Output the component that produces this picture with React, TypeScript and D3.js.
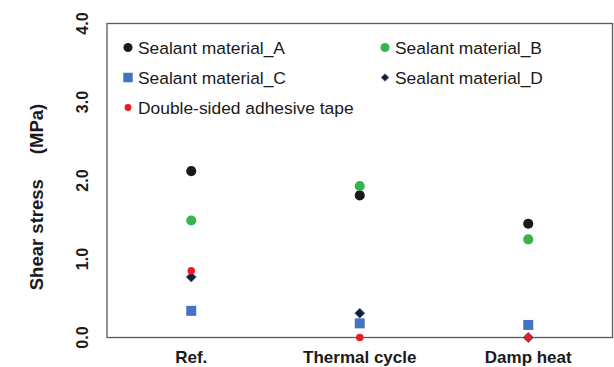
import React from "react";
import * as d3 from "d3";

const categories = ["Ref.", "Thermal cycle", "Damp heat"];
const materialA = [2.12, 1.81, 1.45];
const materialB = [1.49, 1.93, 1.25];
const materialC = [0.34, 0.18, 0.16];
const materialD = [0.77, 0.31, 0.0];
const adhesiveTape = [0.85, 0.0, 0.0];
const yTicks = [0, 1, 2, 3, 4];

const series = [
  { name: "Sealant material_A", values: materialA, shape: "circle", color: "#1a1a1a" },
  { name: "Sealant material_B", values: materialB, shape: "circle", color: "#35b44f" },
  { name: "Sealant material_C", values: materialC, shape: "square", color: "#4472c4" },
  { name: "Sealant material_D", values: materialD, shape: "diamond", color: "#1c1c30" },
  { name: "Double-sided adhesive tape", values: adhesiveTape, shape: "small", color: "#ed1c24" },
];

const symbolPath = (shape: string, legend: boolean) => {
  if (shape === "square") return d3.symbol(d3.symbolSquare, legend ? 90 : 100)();
  if (shape === "diamond") return d3.symbol(d3.symbolSquare, legend ? 30 : 50)();
  if (shape === "small") return d3.symbol(d3.symbolCircle, legend ? 36 : 44)();
  return d3.symbol(d3.symbolCircle, legend ? 64 : 80)();
};

const App = () => {
  const ref = React.useRef<SVGSVGElement>(null);

  React.useEffect(() => {
    const svg = d3.select(ref.current);
    svg.selectAll("*").remove();

    const margin = { top: 23.5, right: 1.5, bottom: 29.5, left: 107 };
    const width = 614, height = 367;

    const x = d3.scalePoint()
      .domain(categories)
      .range([margin.left, width - margin.right])
      .padding(0.5);

    const y = d3.scaleLinear()
      .domain([0, 4])
      .range([height - margin.bottom, margin.top]);

    // frame
    svg.append("rect")
      .attr("x", margin.left)
      .attr("y", margin.top)
      .attr("width", width - margin.right - margin.left)
      .attr("height", height - margin.bottom - margin.top)
      .attr("fill", "none")
      .attr("stroke", "#5a5a5a")
      .attr("stroke-width", 1.3);

    // y tick labels (rotated)
    svg.append("g")
      .selectAll("text")
      .data(yTicks)
      .join("text")
      .attr("transform", (d) => `translate(88,${y(d)}) rotate(-90)`)
      .attr("text-anchor", "middle")
      .attr("font-family", "Liberation Sans, Arial, sans-serif")
      .attr("font-weight", "bold")
      .attr("font-size", 16)
      .attr("fill", "#1a1a1a")
      .text((d) => d.toFixed(1));

    // y title
    const title = svg.append("text")
      .attr("transform", "translate(43,197) rotate(-90)")
      .attr("text-anchor", "middle")
      .attr("font-family", "Liberation Sans, Arial, sans-serif")
      .attr("font-weight", "bold")
      .attr("font-size", 18.5)
      .attr("fill", "#1a1a1a");
    title.append("tspan").text("Shear stress");
    title.append("tspan").attr("dx", 25).text("(MPa)");

    // x labels
    svg.append("g")
      .selectAll("text")
      .data(categories)
      .join("text")
      .attr("x", (d) => x(d)!)
      .attr("y", 363)
      .attr("text-anchor", "middle")
      .attr("font-family", "Liberation Sans, Arial, sans-serif")
      .attr("font-weight", "bold")
      .attr("font-size", 17)
      .attr("fill", "#1a1a1a")
      .text((d) => d);

    // points
    series.forEach((s) => {
      svg.append("g")
        .selectAll("path")
        .data(s.values)
        .join("path")
        .attr("d", symbolPath(s.shape, false))
        .attr("transform", (d, i) =>
          `translate(${x(categories[i])},${y(d)})${s.shape === "diamond" ? " rotate(45)" : ""}`)
        .attr("fill", s.color)
        .attr("stroke", s.shape === "diamond" ? "#4472c4" : "none")
        .attr("stroke-width", 0.8);
    });

    // legend
    const legend = svg.append("g");
    series.forEach((s, i) => {
      const col = i % 2, row = Math.floor(i / 2);
      const lx = 128 + col * 257, ly = 47.5 + row * 30;
      legend.append("path")
        .attr("d", symbolPath(s.shape, true))
        .attr("transform", `translate(${lx},${ly})${s.shape === "diamond" ? " rotate(45)" : ""}`)
        .attr("fill", s.color)
        .attr("stroke", s.shape === "diamond" ? "#4472c4" : "none")
        .attr("stroke-width", 0.6);
      legend.append("text")
        .attr("x", lx + 10)
        .attr("y", ly + 6)
        .attr("font-family", "Liberation Sans, Arial, sans-serif")
        .attr("font-size", 17.4)
        .attr("fill", "#1a1a1a")
        .text(s.name);
    });
  }, []);

  return (
    <svg
      ref={ref}
      width={614}
      height={367}
      style={{ position: "absolute", left: 0, top: 0, background: "#fff" }}
    ></svg>
  );
};

export default App;
